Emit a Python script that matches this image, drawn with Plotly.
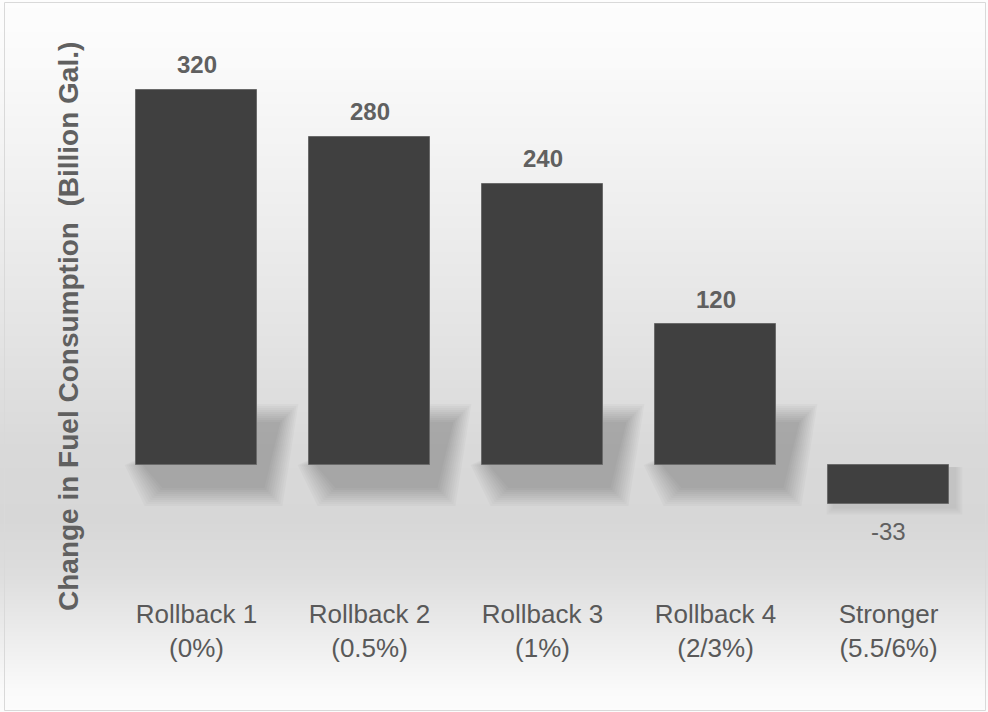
import plotly.graph_objects as go

# ---- data ----
categories = ["Rollback 1<br>(0%)", "Rollback 2<br>(0.5%)", "Rollback 3<br>(1%)",
              "Rollback 4<br>(2/3%)", "Stronger<br>(5.5/6%)"]
values = [320, 280, 240, 120, -33]
y_title = "Change in Fuel Consumption  (Billion Gal.)"

# ---- layout geometry (pixels) ----
W, H = 988, 712
L, R, T, B = 110, 975, 43, 590
Y_RANGE = [-106.7, 360]
BAR_W = 0.705
TXT = "#595959"
BAR = "#404040"

pw, ph = R - L, B - T
n = len(values)
x_idx = list(range(n))
px_x = (n) / pw                      # data units per px (x)
px_y = (Y_RANGE[1] - Y_RANGE[0]) / ph  # data units per px (y)


def paper_x(px):
    return (px - L) / pw


def paper_y(py):
    return (B - py) / ph


shapes = []
# background vertical gradient (strips)
stops = [(0, 253), (60, 250), (200, 239), (330, 228), (450, 217), (520, 215),
         (580, 222), (640, 238), (690, 250), (712, 252)]


def gray_at(py):
    for (y0, g0), (y1, g1) in zip(stops[:-1], stops[1:]):
        if y0 <= py <= y1:
            return g0 + (g1 - g0) * (py - y0) / (y1 - y0)
    return stops[-1][1]


step = 4
for py in range(0, H, step):
    g = int(round(gray_at(py + step / 2)))
    shapes.append(dict(type="rect", xref="paper", yref="paper", layer="below",
                       x0=paper_x(0), x1=paper_x(W), y0=paper_y(py + step + 0.5), y1=paper_y(py),
                       fillcolor=f"rgb({g},{g},{g})", line=dict(width=0)))

# soft perspective shadows behind bars
for i, v in zip(x_idx, values):
    xl, xr = i - BAR_W / 2, i + BAR_W / 2
    if v > 0:
        for g in range(-7, 13, 2):
            pts = [
                (xl - g * px_x, 0),
                (xl + (20 - g) * px_x, -(30 + g) * px_y),
                (xr + (14 + g) * px_x, -(30 + g) * px_y),
                (xr + (30 + g) * px_x, (50 + g) * px_y),
                (xr, (50 + g) * px_y),
            ]
            path = "M " + " L ".join(f"{a},{b}" for a, b in pts) + " Z"
            shapes.append(dict(type="path", xref="x", yref="y", layer="below", path=path,
                               fillcolor="rgba(0,0,0,0.023)", line=dict(width=0)))
    else:
        for grow in [7, 5, 3, 1]:
            shapes.append(dict(type="rect", xref="x", yref="y", layer="below",
                               x0=xl + (6 - grow) * px_x, x1=xr + (6 + grow) * px_x,
                               y0=v - (4 + grow) * px_y, y1=-(2) * px_y,
                               fillcolor="rgba(0,0,0,0.025)", line=dict(width=0)))

# outer border
shapes.append(dict(type="rect", xref="paper", yref="paper", layer="above",
                   x0=paper_x(4.5), x1=paper_x(985.5), y0=paper_y(710.5), y1=paper_y(2.5),
                   line=dict(color="#d9d9d9", width=1), fillcolor="rgba(0,0,0,0)"))

fig = go.Figure(go.Bar(x=x_idx, y=values, width=BAR_W,
                       marker=dict(color=BAR, line=dict(color="#6a6a6a", width=1)),
                       hoverinfo="skip"))

annotations = []
for i, v in zip(x_idx, values):
    annotations.append(dict(x=i, y=v, xref="x", yref="y",
                            text=f"<b>{v}</b>" if v >= 0 else str(v), showarrow=False,
                            yanchor="middle", yshift=25 if v >= 0 else -28,
                            font=dict(family="Liberation Sans, Arial", size=24, color="#606060")))
annotations.append(dict(x=paper_x(68), y=paper_y(327), xref="paper", yref="paper",
                        text="<b>" + y_title + "</b>", textangle=-90, showarrow=False,
                        xanchor="center", yanchor="middle",
                        font=dict(family="Liberation Sans, Arial", size=28, color="#606060")))

fig.update_layout(
    width=W, height=H,
    margin=dict(l=L, r=W - R, t=T, b=H - B, pad=0),
    paper_bgcolor="white", plot_bgcolor="rgba(0,0,0,0)",
    showlegend=False, bargap=0,
    shapes=shapes, annotations=annotations,
    xaxis=dict(range=[-0.5, n - 0.5], tickmode="array", tickvals=x_idx, ticktext=categories,
               showgrid=False, zeroline=False, showline=False, ticks="",
               ticklabelstandoff=6,
               tickfont=dict(family="Liberation Sans, Arial", size=26, color=TXT)),
    yaxis=dict(range=Y_RANGE, showgrid=False, zeroline=False, showline=False,
               showticklabels=False, ticks=""),
)
fig.write_html("out.html", config={"displayModeBar": False},
               post_script="document.body.style.margin='0';document.body.style.overflow='hidden';")
